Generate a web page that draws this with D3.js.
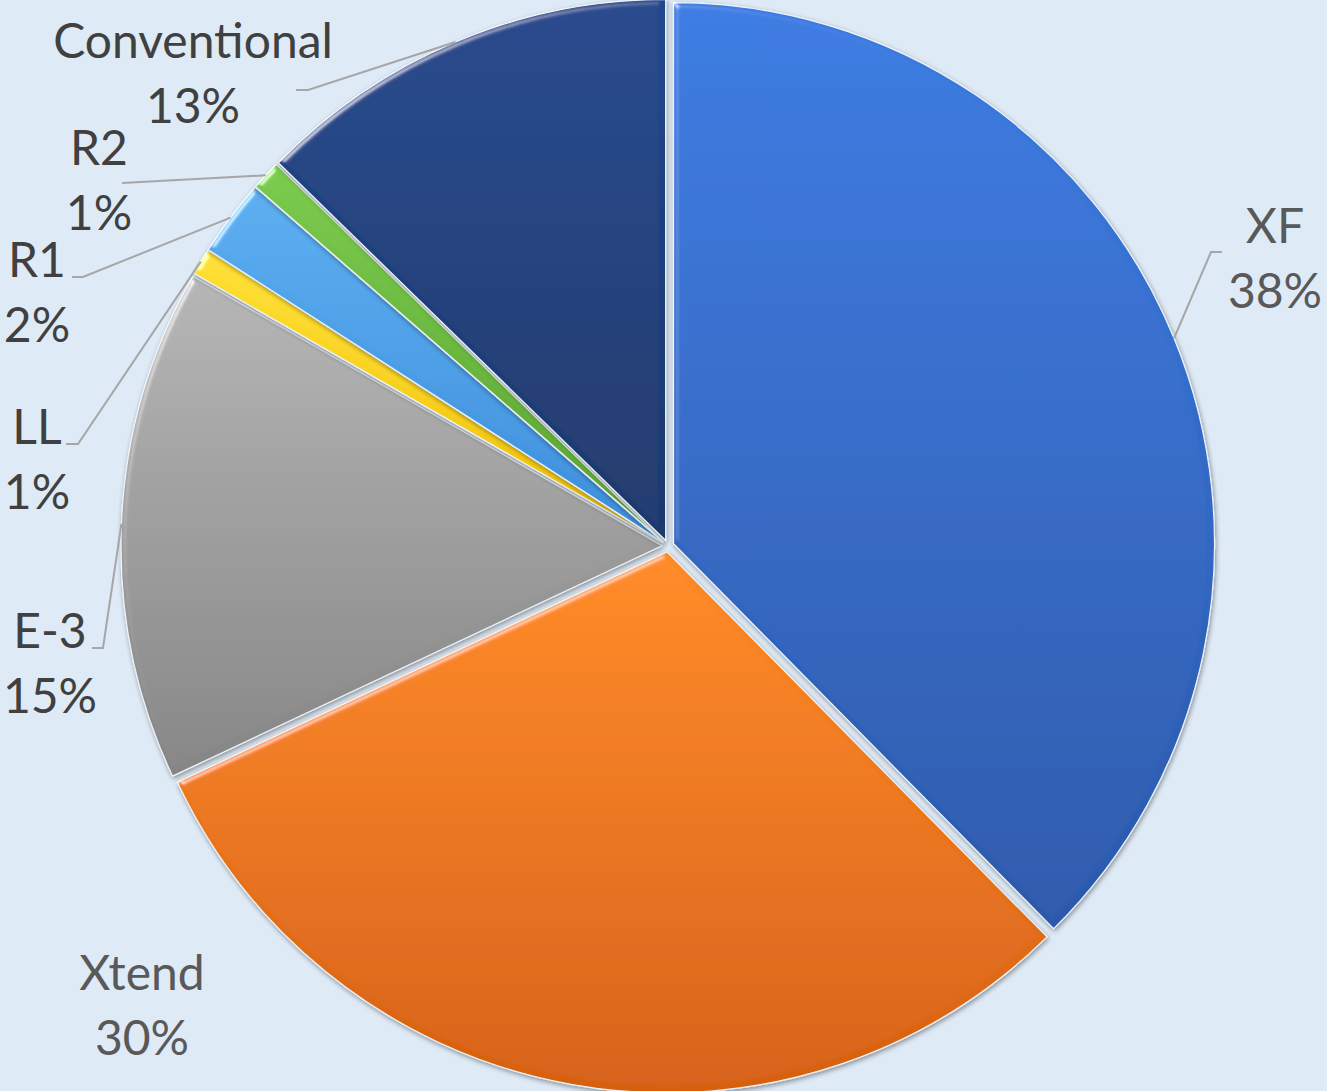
<!DOCTYPE html>
<html>
<head>
<meta charset="utf-8">
<script src="https://cdn.jsdelivr.net/npm/d3@7"></script>
<style>
  html, body { margin: 0; padding: 0; background: #deeaf6; }
  svg { display: block; }
</style>
</head>
<body>
<div id="chart"></div>
<script>
// chart data
var categories = ['XF', 'Xtend', 'E-3', 'LL', 'R1', 'R2', 'Conventional']
var shares = [37.6, 30.4, 15.3, 0.8, 2.3, 0.9, 12.7]

// look of each slice: gradient top -> bottom
var topColors = ['#3a7be2', '#ff8a22', '#b5b5b5', '#ffe033', '#5aaef0', '#7acb4b', '#22478c']
var bottomColors = ['#2a59ab', '#d6600f', '#858585', '#efbf00', '#3b8ddb', '#58a231', '#1a386c']

// where the labels sit (centre x, first baseline) and the elbow of the leader line
var labelPos = [
  {x: 1275, y: 243, elbow: [1211, 252], end: [1222, 252]},
  {x: 142, y: 990, elbow: null},
  {x: 50, y: 648, elbow: [103, 648], end: [92, 648]},
  {x: 37, y: 444, elbow: [78, 444], end: [66, 444]},
  {x: 37, y: 277, elbow: [83, 277], end: [72, 277]},
  {x: 99, y: 165, elbow: [122, 183], end: null},
  {x: 193, y: 58, elbow: [308, 90], end: [296, 90]}
]

var width = 1327, height = 1091
var cx = 668, cy = 546, radius = 541, explode = 6

var svg = d3.select('#chart')
  .append('svg')
  .attr('width', width)
  .attr('height', height)

svg.append('rect')
  .attr('width', width)
  .attr('height', height)
  .attr('fill', '#deeaf6')

var defs = svg.append('defs')

categories.forEach(function(c, i){
  var grad = defs.append('linearGradient')
    .attr('id', 'grad' + i)
    .attr('x1', 0).attr('y1', 0)
    .attr('x2', 0).attr('y2', 1)
  grad.append('stop').attr('offset', '0%').attr('stop-color', topColors[i])
  grad.append('stop').attr('offset', '100%').attr('stop-color', bottomColors[i])
})

// soft bevel + shadow, roughly like the office style
var filt = defs.append('filter')
  .attr('id', 'bevel')
  .attr('x', '-5%').attr('y', '-5%')
  .attr('width', '110%').attr('height', '110%')
filt.append('feGaussianBlur')
  .attr('in', 'SourceAlpha').attr('stdDeviation', 3).attr('result', 'blur')
var spec = filt.append('feSpecularLighting')
  .attr('in', 'blur')
  .attr('surfaceScale', 4)
  .attr('specularConstant', 0.8)
  .attr('specularExponent', 30)
  .attr('lighting-color', '#ffffff')
  .attr('result', 'spec')
spec.append('feDistantLight').attr('azimuth', 225).attr('elevation', 30)
filt.append('feComposite')
  .attr('in', 'spec').attr('in2', 'SourceAlpha').attr('operator', 'in').attr('result', 'specIn')
filt.append('feComposite')
  .attr('in', 'SourceGraphic').attr('in2', 'specIn')
  .attr('operator', 'arithmetic')
  .attr('k1', 0).attr('k2', 1).attr('k3', 0.6).attr('k4', 0)
  .attr('result', 'lit')
filt.append('feOffset').attr('in', 'SourceAlpha').attr('dx', 1).attr('dy', 2).attr('result', 'off')
filt.append('feGaussianBlur').attr('in', 'off').attr('stdDeviation', 2.5).attr('result', 'shblur')
filt.append('feComponentTransfer').attr('in', 'shblur').attr('result', 'shadow')
  .append('feFuncA').attr('type', 'linear').attr('slope', 0.4)
var merge = filt.append('feMerge')
merge.append('feMergeNode').attr('in', 'shadow')
merge.append('feMergeNode').attr('in', 'lit')

var pie = d3.pie()
  .sort(null)
  .value(function(d){ return d })

var arcs = pie(shares)

var arc = d3.arc()
  .innerRadius(0)
  .outerRadius(radius)

function midAngle(d){ return (d.startAngle + d.endAngle) / 2 }

var g = svg.append('g')
  .attr('transform', 'translate(' + cx + ',' + cy + ')')

g.selectAll('path.slice')
  .data(arcs)
  .enter()
  .append('path')
  .attr('class', 'slice')
  .attr('d', arc)
  .attr('transform', function(d){
    var a = midAngle(d)
    return 'translate(' + (Math.sin(a) * explode) + ',' + (-Math.cos(a) * explode) + ')'
  })
  .attr('fill', function(d, i){ return 'url(#grad' + i + ')' })
  .attr('stroke', '#eef3f9')
  .attr('stroke-width', 1.2)
  .attr('filter', 'url(#bevel)')

// leader lines from the middle of each outer edge to the label
var lines = svg.append('g')
arcs.forEach(function(d, i){
  var p = labelPos[i]
  if (!p.elbow) return
  var a = midAngle(d)
  var r = radius + explode
  var pts = [[cx + Math.sin(a) * r, cy - Math.cos(a) * r], p.elbow]
  if (p.end) pts.push(p.end)
  lines.append('path')
    .attr('d', d3.line()(pts))
    .attr('fill', 'none')
    .attr('stroke', '#a6a6a6')
    .attr('stroke-width', 2)
})

var labels = svg.append('g')
  .attr('font-family', 'Lato, "Open Sans", sans-serif')
  .attr('font-size', 48)
  .attr('text-anchor', 'middle')

arcs.forEach(function(d, i){
  var p = labelPos[i]
  var t = labels.append('text')
    .attr('fill', i < 2 ? '#595959' : '#404040')
  t.append('tspan')
    .attr('x', p.x).attr('y', p.y)
    .text(categories[i])
  t.append('tspan')
    .attr('x', p.x).attr('y', p.y + 65)
    .text(Math.round(shares[i]) + '%')
})
</script>
</body>
</html>
